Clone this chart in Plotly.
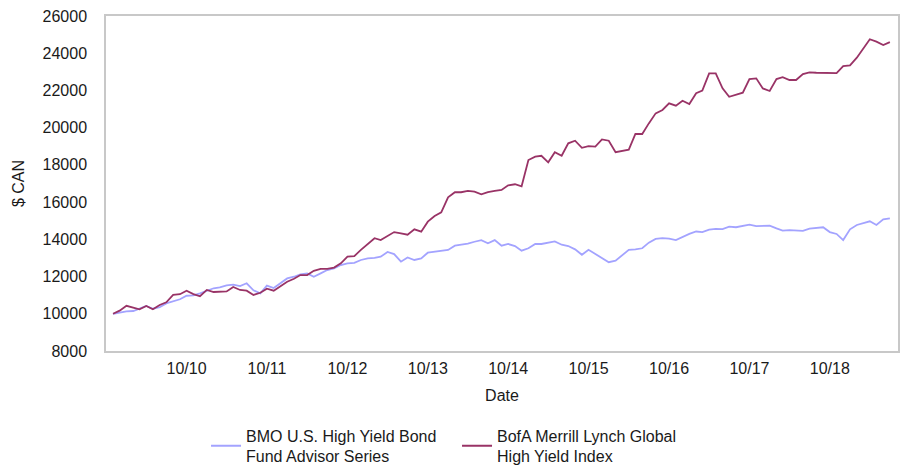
import pandas as pd
import plotly.graph_objects as go

# Monthly observation dates (month starts), Nov 2009 through Jul 2019
dates = pd.date_range("2009-11-01", periods=117, freq="MS")

fund_name = "BMO U.S. High Yield Bond<br>Fund Advisor Series"
index_name = "BofA Merrill Lynch Global<br>High Yield Index"

# Growth of a $10,000 investment, in Canadian dollars
fund_values = [
    10000, 10080, 10130, 10150, 10260, 10420, 10270, 10350, 10560, 10650,
    10780, 10970, 10990, 11100, 11240, 11370, 11420, 11530, 11570, 11490,
    11640, 11260, 11100, 11510, 11380, 11640, 11900, 11990, 12120, 12170,
    11990, 12170, 12350, 12440, 12620, 12710, 12740, 12890, 12980, 13000,
    13070, 13320, 13210, 12800, 13030, 12890, 12980, 13280, 13320, 13360,
    13430, 13660, 13710, 13770, 13870, 13960, 13790, 13960, 13660, 13750,
    13640, 13390, 13520, 13750, 13750, 13820, 13890, 13710, 13640, 13460,
    13170, 13440, 13210, 12980, 12770, 12850, 13160, 13440, 13460, 13520,
    13820, 14020, 14060, 14040, 13960, 14140, 14290, 14420, 14390, 14520,
    14560, 14550, 14680, 14650, 14720, 14790, 14710, 14720, 14740, 14590,
    14470, 14500, 14470, 14450, 14570, 14610, 14650, 14390, 14290, 13960,
    14540, 14770, 14860, 14970, 14770, 15070, 15130,
]

index_values = [
    10000, 10170, 10430, 10330, 10240, 10420, 10240, 10470, 10620, 11020,
    11050, 11240, 11060, 10940, 11280, 11170, 11200, 11200, 11440, 11280,
    11240, 11010, 11130, 11350, 11240, 11490, 11720, 11880, 12080, 12080,
    12310, 12410, 12410, 12480, 12710, 13070, 13100, 13430, 13730, 14060,
    13960, 14160, 14390, 14320, 14250, 14540, 14410, 14950, 15250, 15450,
    16260, 16530, 16530, 16600, 16560, 16420, 16540, 16600, 16650, 16900,
    16960, 16850, 18260, 18440, 18490, 18140, 18680, 18490, 19160, 19300,
    18920, 19010, 18980, 19370, 19300, 18680, 18760, 18820, 19660, 19660,
    20230, 20770, 20950, 21310, 21180, 21450, 21270, 21850, 21990, 22920,
    22920, 22110, 21660, 21750, 21880, 22610, 22650, 22110, 21970, 22610,
    22710, 22560, 22560, 22880, 22970, 22950, 22950, 22920, 22930, 23310,
    23350, 23760, 24260, 24750, 24620, 24440, 24600,
]

tick_dates = ["2010-10-01", "2011-10-01", "2012-10-01", "2013-10-01", "2014-10-01",
              "2015-10-01", "2016-10-01", "2017-10-01", "2018-10-01"]
tick_labels = ["10/10", "10/11", "10/12", "10/13", "10/14",
               "10/15", "10/16", "10/17", "10/18"]

FONT = "Liberation Sans, Arial, sans-serif"
TEXT = "#1a1a1a"
FRAME = "#c8c8c8"
SIZE = 16

fig = go.Figure()
fig.add_trace(go.Scatter(
    x=dates, y=fund_values, name=fund_name, mode="lines",
    line=dict(color="#a3a3ff", width=1.8),
))
fig.add_trace(go.Scatter(
    x=dates, y=index_values, name=index_name, mode="lines",
    line=dict(color="#993366", width=1.8),
))

fig.update_layout(
    width=902, height=467,
    margin=dict(l=106, r=4, t=16, b=116, autoexpand=False),
    paper_bgcolor="white", plot_bgcolor="white",
    font=dict(family=FONT, size=SIZE, color=TEXT),
    showlegend=True,
    legend=dict(
        orientation="h", x=0.1263, xanchor="left",
        yref="container", y=0.104, yanchor="top",
        font=dict(family=FONT, size=SIZE, color=TEXT),
        entrywidth=206, entrywidthmode="pixels",
        tracegroupgap=0, valign="middle",
    ),
)

fig.update_xaxes(
    range=["2009-09-30", "2019-08-07"],
    tickvals=tick_dates, ticktext=tick_labels,
    showgrid=False, zeroline=False, automargin=False,
    showline=True, mirror=True, linecolor=FRAME, linewidth=1.5,
    ticks="", ticklabelstandoff=2,
    title=dict(text="Date", standoff=14, font=dict(family=FONT, size=SIZE, color=TEXT)),
)
fig.update_yaxes(
    range=[8000, 26000], dtick=2000, tick0=8000, tickformat="d",
    showgrid=False, zeroline=False, automargin=False,
    showline=True, mirror=True, linecolor=FRAME, linewidth=1.5,
    ticks="", ticklabelstandoff=14,
    title=dict(text="$ CAN", standoff=14, font=dict(family=FONT, size=SIZE, color=TEXT)),
)

fig.write_html("out.html")
